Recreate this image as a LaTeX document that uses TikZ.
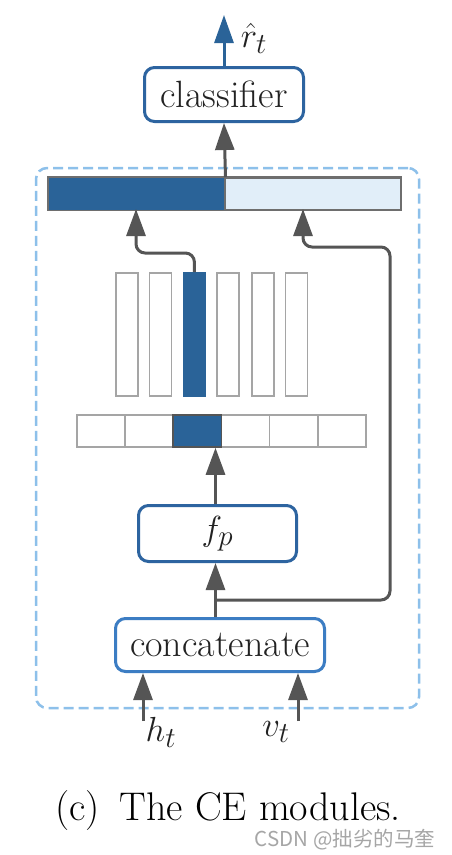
\documentclass[tikz,border=0pt]{standalone}
\usepackage{graphicx}
\usepackage{fontspec}
\newfontfamily\cjk{Noto Sans CJK SC}
\usetikzlibrary{arrows.meta}
\definecolor{dblue}{HTML}{2A6398}
\definecolor{bordblue}{HTML}{2D64A0}
\definecolor{lblue}{HTML}{3C7DC3}
\definecolor{dashblue}{HTML}{8DC0EA}
\definecolor{paleblue}{HTML}{E1EEF9}
\definecolor{agray}{HTML}{555555}
\definecolor{cgray}{HTML}{A5A5A5}
\definecolor{bgray}{HTML}{6E6E6E}
\definecolor{txt}{HTML}{222222}
\newcommand{\bigmath}[1]{\scalebox{1.4}{\fontsize{24.88}{30}\selectfont$#1$}}
\begin{document}
\begin{tikzpicture}[x=1pt,y=-1pt,
  every node/.style={font=\fontsize{38}{44}\selectfont, text=txt},
  modbox/.style={draw=bordblue, line width=3pt, rounded corners=10pt, fill=white, inner sep=0pt},
  catbox/.style={modbox, draw=lblue},
  cebox/.style={draw=dashblue, line width=2.5pt, dash pattern=on 10pt off 5pt, rounded corners=11pt, inner sep=0pt},
  arr/.style={draw=agray, line width=3pt, -{Triangle[length=27pt,width=19pt]}},
  outarr/.style={arr, draw=dblue, -{Triangle[length=28pt,width=19pt,fill=dblue]}},
  colbox/.style={draw=cgray, line width=1.8pt, fill=white, inner sep=0pt, minimum width=22pt, minimum height=123pt, anchor=north west},
  cellbox/.style={draw=cgray, line width=1.8pt, fill=white, inner sep=0pt, minimum width=48.17pt, minimum height=32pt, anchor=north west},
  hot/.style={fill=dblue, draw=dblue},
]
\useasboundingbox (0,0) rectangle (451,855);
\fill[white] (0,0) rectangle (451,855);

% dashed CE module frame
\node[cebox, minimum width=383pt, minimum height=540pt] (ce) at (227.5,438) {};

% top concatenated vector
\node[inner sep=0pt, minimum width=176pt, minimum height=32pt, anchor=north west, fill=dblue, draw=dblue, line width=1.5pt] (barL) at (48,177) {};
\node[inner sep=0pt, minimum width=176pt, minimum height=32pt, anchor=north west, fill=paleblue, draw=bgray, line width=1.5pt] (barR) at (224,177) {};
\draw[bgray, line width=1.5pt] (barL.north west) rectangle (barR.south east);

% columns
\node[colbox] (col1) at (115,272) {};
\node[colbox] (col2) at (148.5,272) {};
\node[colbox, hot] (col3) at (182.5,272) {};
\node[colbox] (col4) at (216,272) {};
\node[colbox] (col5) at (251,272) {};
\node[colbox] (col6) at (284.5,272) {};

% cells
\node[cellbox] (cell1) at (76,414) {};
\node[cellbox] (cell2) at (124.17,414) {};
\node[cellbox] (cell4) at (220.5,414) {};
\node[cellbox] (cell5) at (268.67,414) {};
\node[cellbox] (cell6) at (316.83,414) {};
\node[cellbox, fill=dblue, draw=agray] (cell3) at (172.33,414) {};

% module boxes
\node[modbox, minimum width=159pt, minimum height=54pt] (cls) at (224,94.5) {classifier};
\node[modbox, minimum width=158pt, minimum height=56pt] (fp) at (217.5,533.5) {\bigmath{f_p}};
\node[catbox, minimum width=209pt, minimum height=53pt] (cat) at (220,645) {concatenate};

% coordinates
\coordinate (jx) at (215.5,0);
\coordinate (rtip) at (224,15);
\coordinate (inL) at (136,209);
\coordinate (inR) at (303,209);
\coordinate (kL) at (136,253);
\coordinate (j) at (215.5,600);
\coordinate (r1) at (390,600);
\coordinate (r2) at (390,247);
\coordinate (r3) at (303,247);
\coordinate (hin) at (143,721);
\coordinate (vin) at (298,721);

% connectors
\draw[outarr] (cls.north) -- (rtip);
\node (rhat) at (254,38) {\bigmath{\hat{r}_t}};
\draw[arr] (barL.north east) -- (cls.south);
\draw[arr, rounded corners=9pt] (col3.north) |- (kL) -- (inL);
\draw[arr, rounded corners=9pt] (j) -- (r1) -- (r2) -- (r3) -- (inR);
\draw[arr] (cat.north -| jx) -- (fp.south -| jx);
\draw[arr] (fp.north -| jx) -- (cell3.south -| jx);
\draw[arr] (hin) -- (hin |- cat.south);
\draw[arr] (vin) -- (vin |- cat.south);
\node (ht) at (161,732) {\bigmath{h_t}};
\node (vt) at (276,732) {\bigmath{v_t}};

% caption
\node[font=\fontsize{40}{46}\selectfont, text=black, inner sep=0pt] (cap) at (228,811) {(c)\enspace The CE modules.};
\node[font=\cjk\fontsize{20.5}{24}\selectfont, text=black!35, inner sep=0pt] (wm) at (345,840) {CSDN @拙劣的马奎};
\end{tikzpicture}
\end{document}
